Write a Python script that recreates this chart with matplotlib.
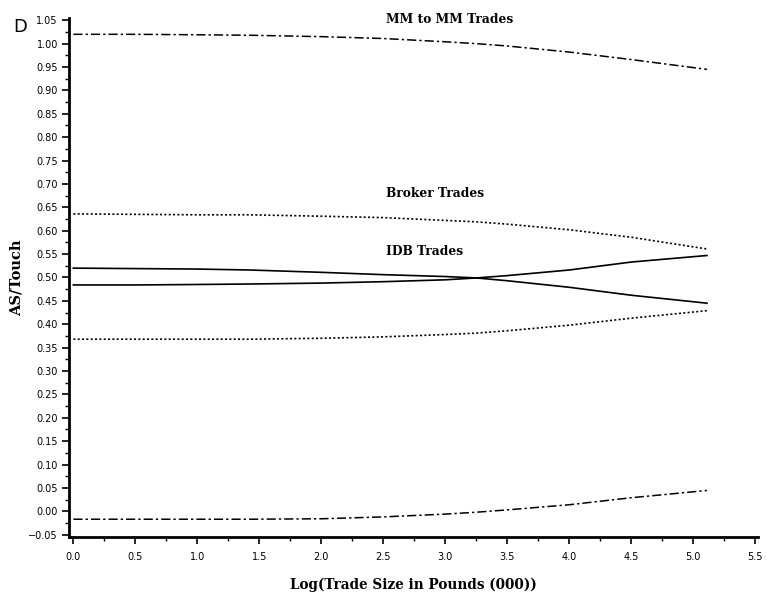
import numpy as np
import matplotlib
matplotlib.use("Agg")
import matplotlib.pyplot as plt
from matplotlib.ticker import MultipleLocator

# trade size (log) and the band edges
x = [0.0, 0.5, 1.0, 1.42, 2.0, 2.5, 3.0, 3.25, 3.5, 4.0, 4.5, 5.11]

mm_hi = [1.020, 1.020, 1.019, 1.018, 1.015, 1.011, 1.004, 1.000, 0.995, 0.982, 0.966, 0.945]
mm_lo = [-0.017, -0.017, -0.017, -0.017, -0.016, -0.012, -0.006, -0.002, 0.003, 0.014, 0.029, 0.0445]
broker_hi = [0.636, 0.635, 0.634, 0.634, 0.631, 0.628, 0.622, 0.619, 0.614, 0.602, 0.586, 0.561]
broker_lo = [0.368, 0.368, 0.368, 0.368, 0.370, 0.373, 0.378, 0.381, 0.386, 0.398, 0.413, 0.429]
idb_hi = [0.520, 0.519, 0.518, 0.516, 0.511, 0.506, 0.502, 0.499, 0.493, 0.479, 0.462, 0.445]
idb_lo = [0.484, 0.484, 0.485, 0.486, 0.488, 0.491, 0.495, 0.499, 0.504, 0.516, 0.533, 0.547]

labels = ["MM to MM Trades", "Broker Trades", "IDB Trades"]
label_pos = [(2.52, 1.051), (2.52, 0.679), (2.52, 0.555)]

fig = plt.figure(figsize=(7.67, 5.98), dpi=100)
ax = fig.add_axes([0.090, 0.102, 0.898, 0.868])

dashdot = (0, (6, 2, 1.5, 2))
dotted = (0, (1.2, 1.4))
ax.plot(x, mm_hi, color="k", lw=1.1, linestyle=dashdot)
ax.plot(x, mm_lo, color="k", lw=1.1, linestyle=dashdot)
ax.plot(x, broker_hi, color="k", lw=1.2, linestyle=dotted)
ax.plot(x, broker_lo, color="k", lw=1.2, linestyle=dotted)
ax.plot(x, idb_hi, color="k", lw=1.2)
ax.plot(x, idb_lo, color="k", lw=1.2)

for lab, (lx, ly) in zip(labels, label_pos):
    ax.text(lx, ly, lab, family="DejaVu Serif", fontweight="bold", fontsize=8.8,
            ha="left", va="center")

ax.set_xlim(-0.035, 5.52)
ax.set_ylim(-0.055, 1.055)
ax.xaxis.set_major_locator(MultipleLocator(0.5))
ax.xaxis.set_minor_locator(MultipleLocator(0.25))
ax.yaxis.set_major_locator(MultipleLocator(0.05))
ax.yaxis.set_minor_locator(MultipleLocator(0.025))
ax.xaxis.set_major_formatter(plt.FuncFormatter(lambda v, p: f"{v:.1f}"))
ax.yaxis.set_major_formatter(plt.FuncFormatter(lambda v, p: f"{v:.2f}".replace("-", "\u2212")))

for s in ["top", "right"]:
    ax.spines[s].set_visible(False)
for s in ["left", "bottom"]:
    ax.spines[s].set_linewidth(2.0)

ax.tick_params(which="major", direction="out", length=5, width=1.2, labelsize=7, pad=3)
ax.tick_params(which="minor", direction="out", length=3, width=1.0)
ax.tick_params(axis="x", pad=6)

fig.text(0.017, 0.955, "D", fontsize=13, ha="left", va="center")
fig.text(0.022, 0.536, "AS/Touch", family="DejaVu Serif", fontweight="bold",
         fontsize=10.5, rotation=90, ha="center", va="center")
fig.text(0.539, 0.022, "Log(Trade Size in Pounds (000))", family="DejaVu Serif",
         fontweight="bold", fontsize=9.8, ha="center", va="center")

fig.savefig("out.png", dpi=100)
